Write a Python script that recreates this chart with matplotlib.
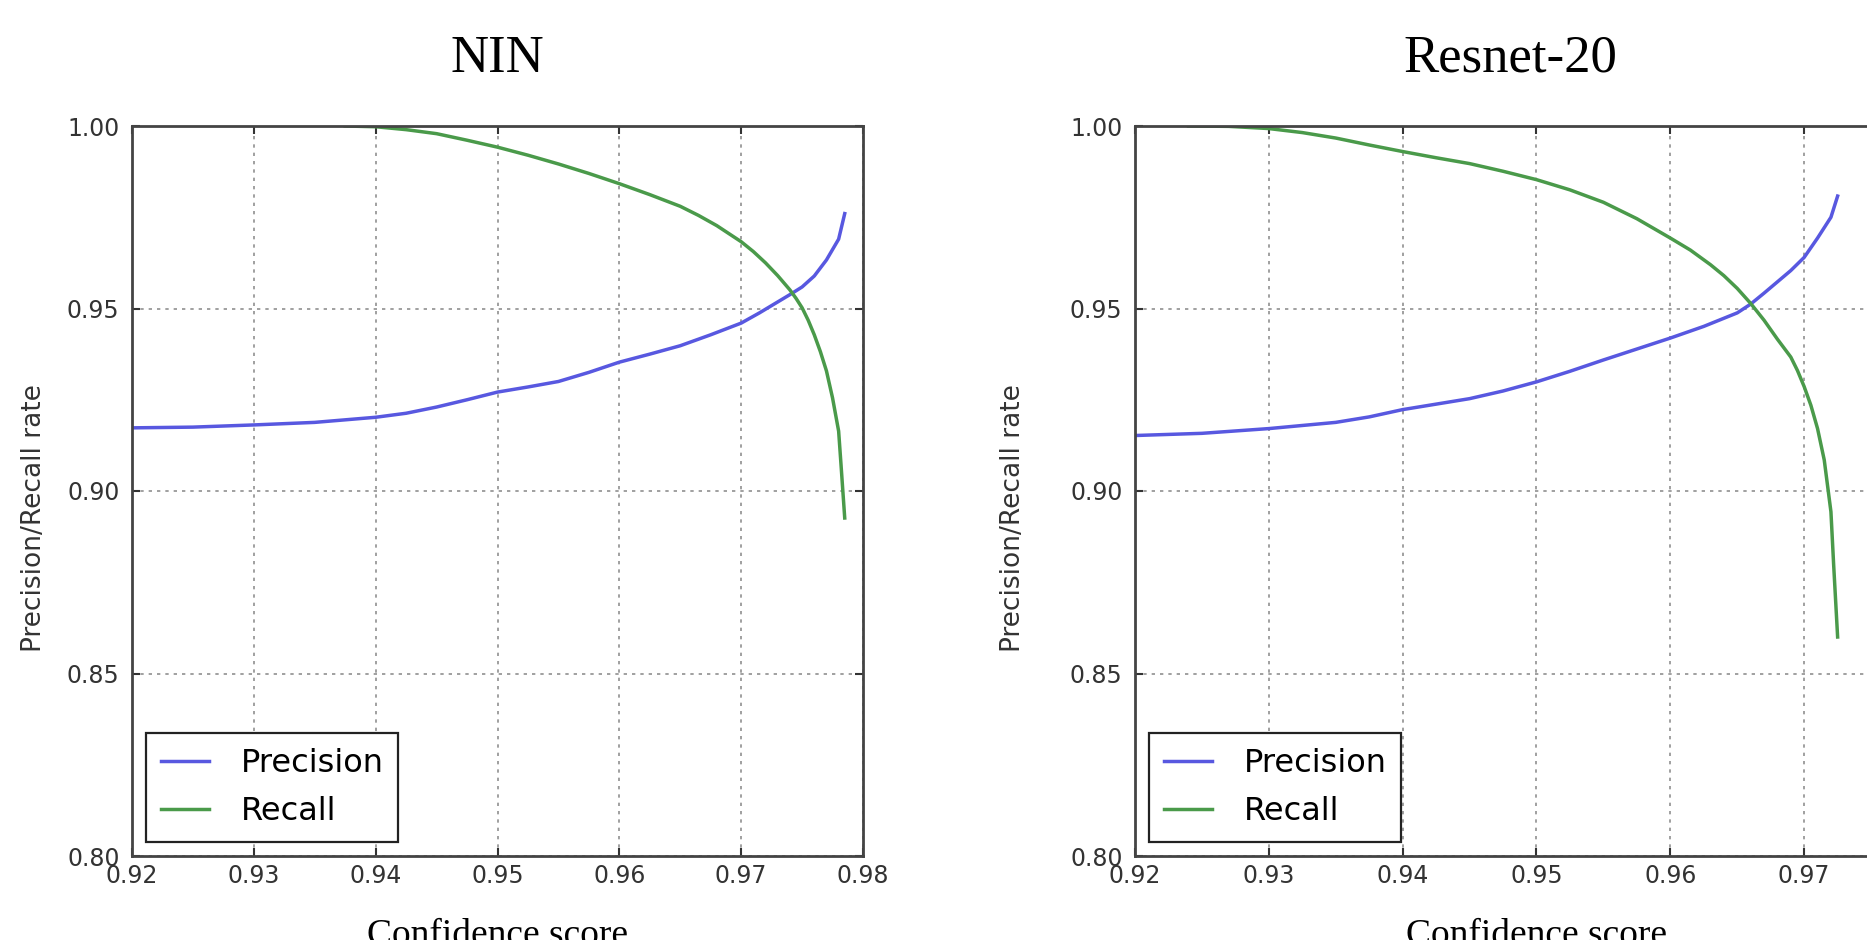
import matplotlib
matplotlib.use("Agg")
import matplotlib.pyplot as plt

# NIN (left panel)
nin_prec_x = [0.920, 0.925, 0.930, 0.935, 0.940, 0.9425, 0.945, 0.9475, 0.950,
              0.9525, 0.955, 0.9575, 0.960, 0.9625, 0.965, 0.9675, 0.970,
              0.9715, 0.973, 0.974, 0.975, 0.976, 0.977, 0.978, 0.9785]
nin_prec_y = [0.9173, 0.9175, 0.9181, 0.9188, 0.9202, 0.9213, 0.9230, 0.9250,
              0.9271, 0.9285, 0.9300, 0.9325, 0.9353, 0.9375, 0.9398, 0.9428,
              0.9460, 0.9488, 0.9518, 0.9538, 0.9559, 0.9589, 0.9633, 0.9690, 0.9760]
nin_rec_x = [0.9375, 0.940, 0.9425, 0.945, 0.9475, 0.950, 0.9525, 0.955, 0.9575,
             0.960, 0.9625, 0.965, 0.9665, 0.968, 0.970, 0.971, 0.972, 0.973,
             0.974, 0.9745, 0.975, 0.9755, 0.976, 0.9765, 0.977, 0.9775, 0.978,
             0.9782, 0.9785]
nin_rec_y = [1.0000, 0.9998, 0.9990, 0.9979, 0.9961, 0.9942, 0.9920, 0.9896,
             0.9870, 0.9842, 0.9812, 0.9780, 0.9755, 0.9727, 0.9683, 0.9656,
             0.9625, 0.9590, 0.9551, 0.9528, 0.9502, 0.9468, 0.9428, 0.9382,
             0.9329, 0.9255, 0.9164, 0.9070, 0.8926]

# Resnet-20 (right panel)
res_prec_x = [0.920, 0.925, 0.930, 0.935, 0.9375, 0.940, 0.9425, 0.945, 0.9475,
              0.950, 0.9525, 0.955, 0.9575, 0.960, 0.9625, 0.965, 0.966, 0.967,
              0.968, 0.969, 0.970, 0.971, 0.972, 0.9725]
res_prec_y = [0.9152, 0.9158, 0.9171, 0.9188, 0.9203, 0.9223, 0.9238, 0.9253,
              0.9274, 0.9299, 0.9328, 0.9359, 0.9389, 0.9419, 0.9451, 0.9488,
              0.9512, 0.9542, 0.9573, 0.9604, 0.9640, 0.9693, 0.9750, 0.9808]
res_rec_x = [0.924, 0.927, 0.930, 0.9325, 0.935, 0.9375, 0.940, 0.9425, 0.945,
             0.9475, 0.950, 0.9525, 0.955, 0.9575, 0.960, 0.9615, 0.963, 0.964,
             0.965, 0.966, 0.967, 0.968, 0.969, 0.9695, 0.970, 0.9705, 0.971,
             0.9715, 0.972, 0.9722, 0.9725]
res_rec_y = [1.0000, 0.9999, 0.9993, 0.9982, 0.9967, 0.9948, 0.9930, 0.9913,
             0.9897, 0.9876, 0.9853, 0.9825, 0.9791, 0.9746, 0.9693, 0.9660,
             0.9620, 0.9590, 0.9555, 0.9514, 0.9468, 0.9416, 0.9367, 0.9330,
             0.9286, 0.9235, 0.9171, 0.9085, 0.8943, 0.8800, 0.8600]

x_ticks = [0.92, 0.93, 0.94, 0.95, 0.96, 0.97, 0.98]
y_ticks = [0.80, 0.85, 0.90, 0.95, 1.00]

W, H = 1867, 940
fig = plt.figure(figsize=(W / 100, H / 100), dpi=100)
fig.patch.set_facecolor("white")

serif = ["Liberation Serif", "DejaVu Serif"]
blue = "#5858e0"
green = "#4a9a4a"


def style_axes(ax, ylab_x):
    ax.set_xlim(0.92, 0.98)
    ax.set_ylim(0.80, 1.00)
    ax.set_xticks(x_ticks)
    ax.set_yticks(y_ticks)
    ax.set_xticklabels(["%.2f" % t for t in x_ticks])
    ax.set_yticklabels(["%.2f" % t for t in y_ticks])
    ax.grid(True, color="#909090", linestyle=(0, (2, 3)), linewidth=1.2)
    ax.tick_params(direction="in", top=True, right=True, length=6, width=1.5,
                   labelsize=17, labelcolor="#333333", color="#333333")
    ax.tick_params(axis="x", pad=6)
    ax.tick_params(axis="y", pad=9)
    for s in ax.spines.values():
        s.set_linewidth(2)
        s.set_color("#444444")
    ax.set_xlabel("Confidence score", fontsize=27, family=serif, va="top")
    ax.xaxis.set_label_coords(0.5, -0.085)
    ax.set_ylabel("Precision/Recall rate", fontsize=19, color="#333333", va="center")
    ax.yaxis.set_label_coords(ylab_x, 0.463)
    ax.legend(loc="lower left", fontsize=23, fancybox=False, framealpha=1,
              edgecolor="#222222", handlelength=1.5, handletextpad=1.0,
              borderpad=0.45, labelspacing=0.55, borderaxespad=0.45)
    ax.get_legend().get_frame().set_linewidth(1.6)


# left panel
ax1 = fig.add_axes([132 / W, (H - 856) / H, 731 / W, 730 / H])
ax1.plot(nin_prec_x, nin_prec_y, color=blue, lw=2.5, label="Precision")
ax1.plot(nin_rec_x, nin_rec_y, color=green, lw=2.5, label="Recall")
style_axes(ax1, -0.134)

# right panel (its right side is cut off by the figure edge, as in the source)
ax2 = fig.add_axes([1135 / W, (H - 856) / H, 803 / W, 730 / H])
ax2.plot(res_prec_x, res_prec_y, color=blue, lw=2.5, label="Precision")
ax2.plot(res_rec_x, res_rec_y, color=green, lw=2.5, label="Recall")
style_axes(ax2, -0.152)

fig.text(497 / W, (H - 72) / H, "NIN", fontsize=38, family=serif,
         ha="center", va="baseline")
fig.text(1510 / W, (H - 72) / H, "Resnet-20", fontsize=38, family=serif,
         ha="center", va="baseline")

fig.savefig("out.png", dpi=100)
